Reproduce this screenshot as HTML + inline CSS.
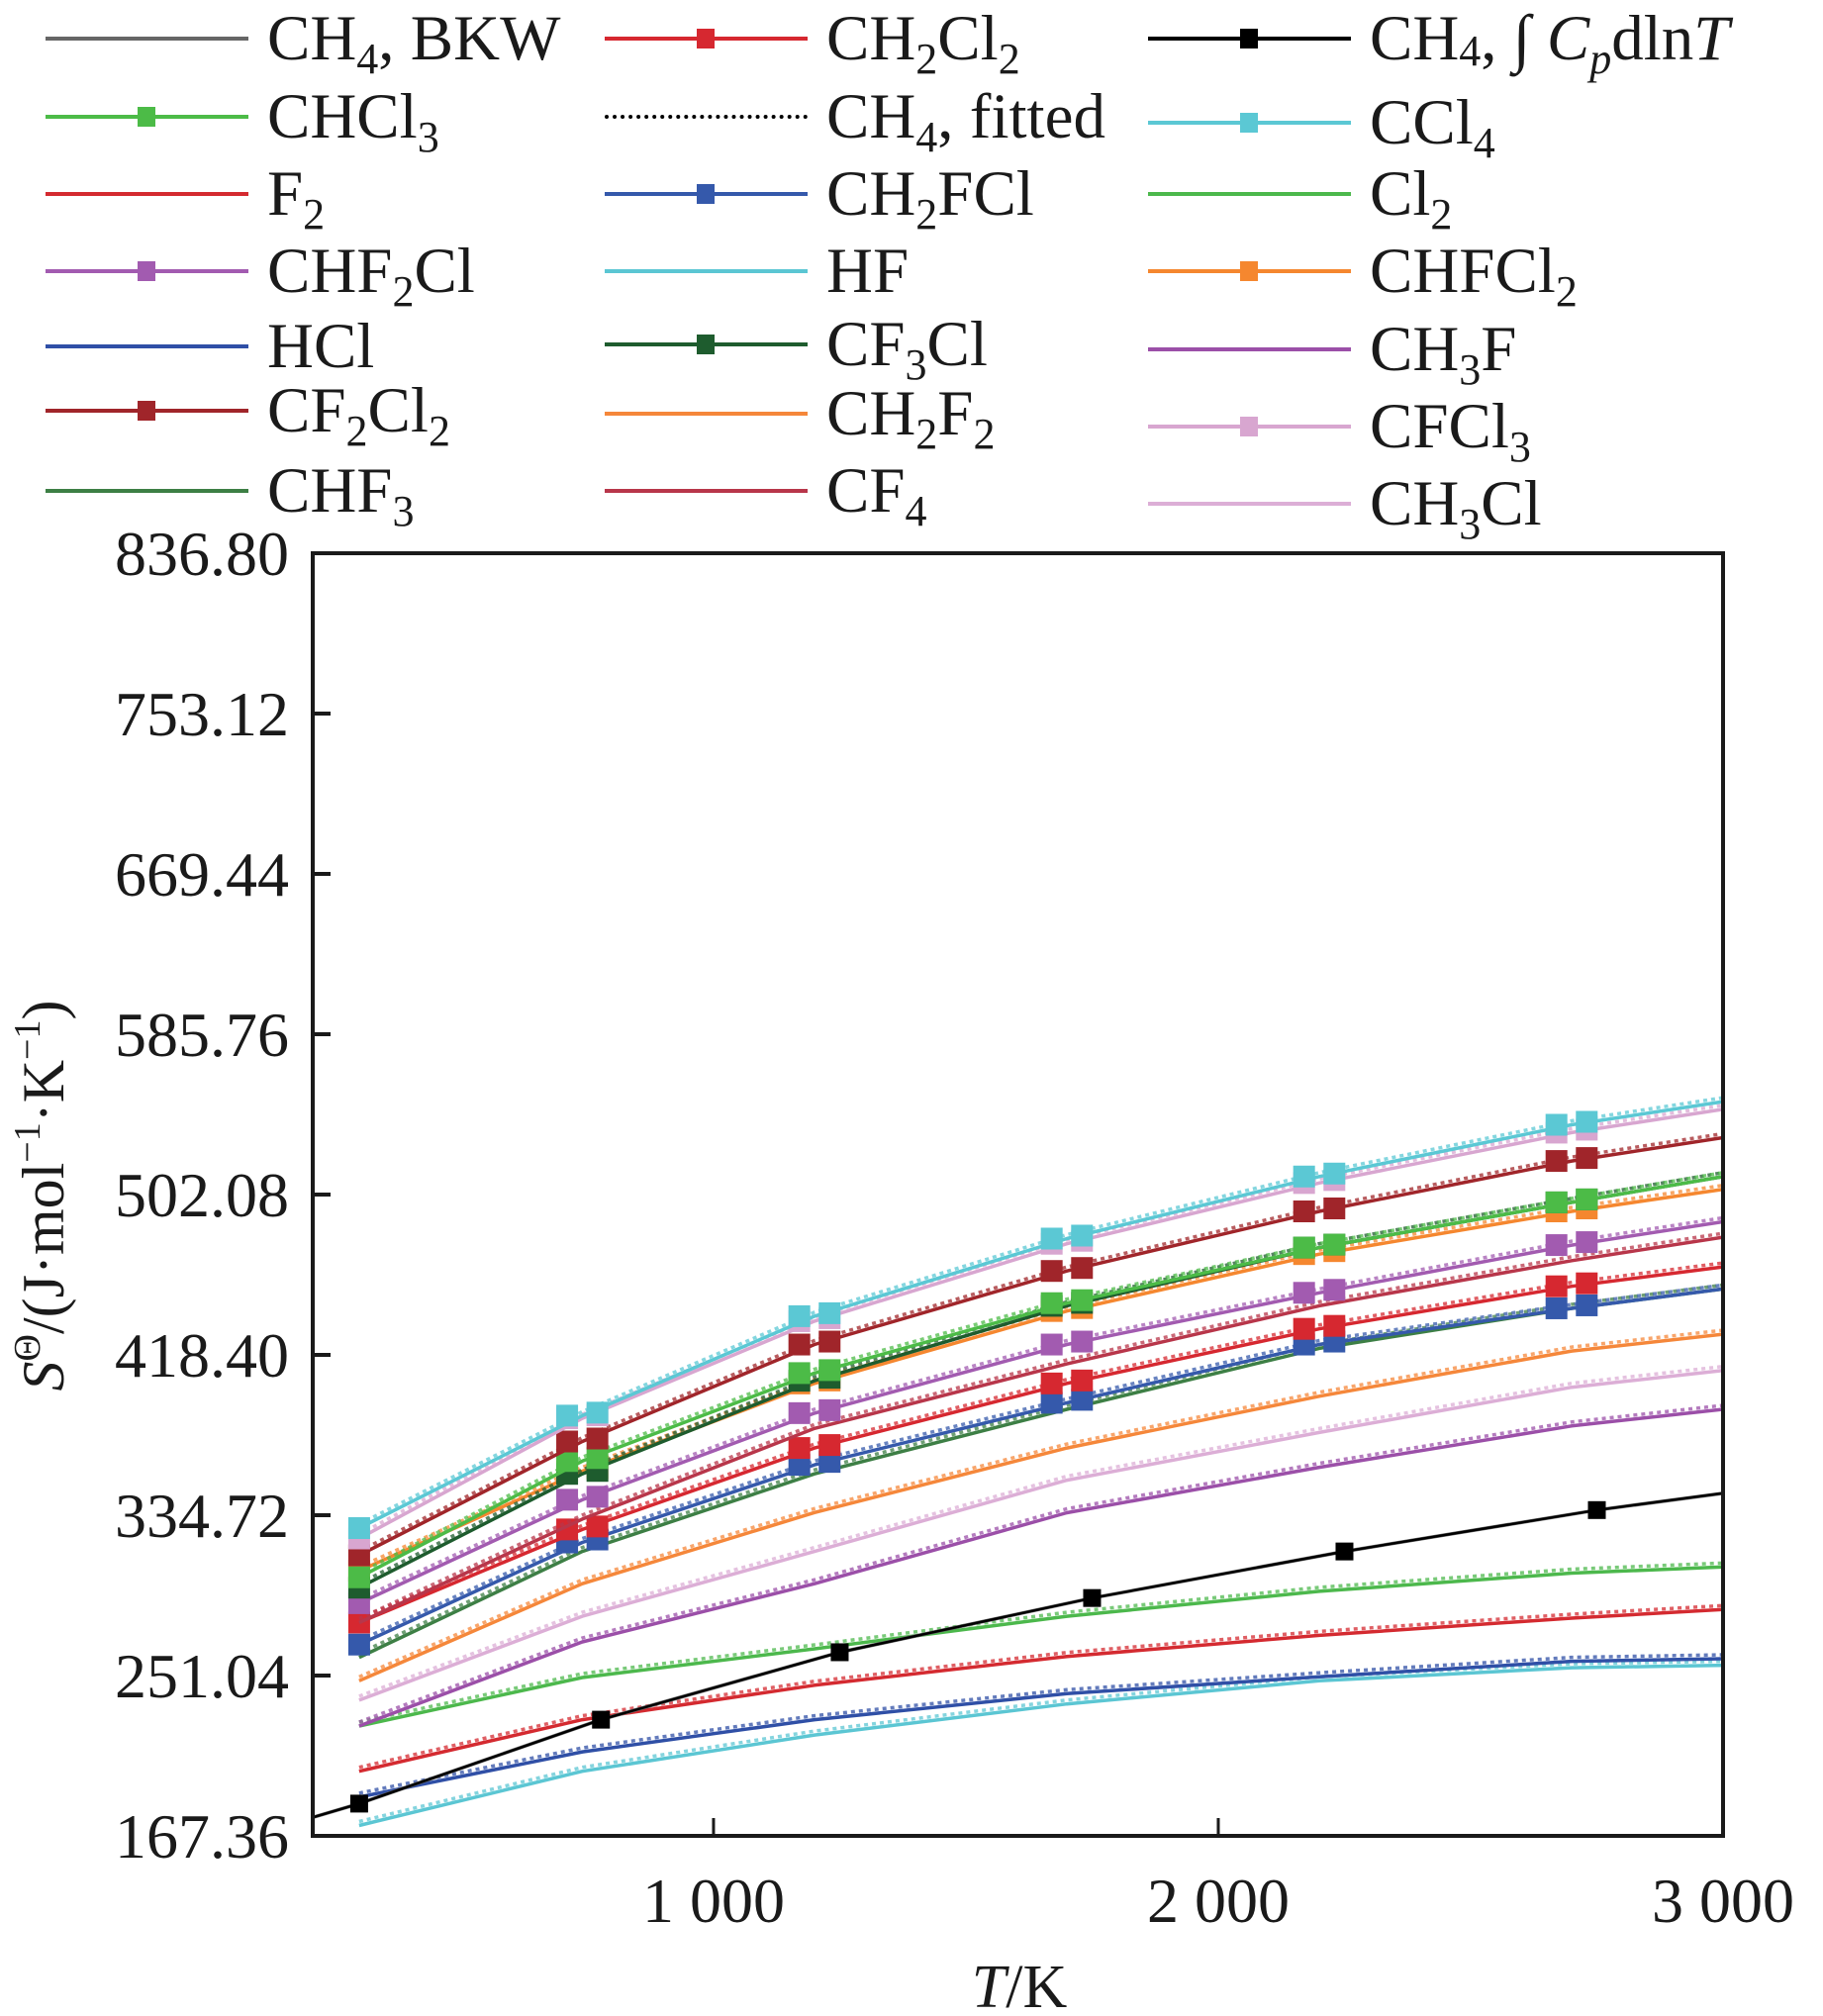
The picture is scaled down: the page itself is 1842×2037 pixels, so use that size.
<!DOCTYPE html>
<html><head><meta charset="utf-8">
<style>
html,body{margin:0;padding:0;background:#fff;}
#wrap{position:relative;width:1842px;height:2037px;overflow:hidden;font-family:"Liberation Serif",serif;color:#1a1a1a;}
svg{position:absolute;left:0;top:0;}
.lg{position:absolute;font-size:65px;line-height:1;white-space:nowrap;font-family:"Liberation Serif",serif;}
.lg sub{font-size:44px;vertical-align:-14px;line-height:0;}
</style></head>
<body>
<div id="wrap">
<svg id="chart" width="1842" height="2037"></svg>
</div>
<script>
const temps = [298, 740, 1200, 1700, 2200, 2700, 3000];
const ch4Temps = [206, 298, 777, 1250, 1750, 2250, 2750, 3000];
const ch4Values = [177, 184.2, 228, 263.2, 291.5, 315.8, 337.4, 346.2];
const vCCl4   = [328, 386.7, 438.6, 479.1, 511.5, 538.5, 550.6];
const vCFCl3  = [322.6, 385.3, 436, 476.4, 508.1, 534.4, 546.6];
const vCF2Cl2 = [313.8, 373.2, 423.8, 462.2, 493.3, 519.6, 531.8];
const vCHFCl2 = [305.7, 357.7, 403.5, 441.3, 471, 493.3, 504.8];
const vCHCl3  = [302.3, 363, 408.9, 445.4, 474.4, 498, 511.5];
const vCF3Cl  = [296.9, 356.3, 404.9, 444, 474.4, 498, 511.5];
const vCHF2Cl = [288.8, 342.8, 388, 423.8, 450.8, 475.7, 487.9];
const vCF4    = [278.7, 332.7, 380, 413.7, 444, 467.6, 479.8];
const vCH2Cl2 = [278.7, 327.3, 369.8, 403.5, 432, 454.2, 464.3];
const vCH2FCl = [267.2, 320.5, 361, 393.4, 423.8, 442.7, 452.8];
const vCHF3   = [260.5, 315.8, 356.3, 390, 421.8, 442.7, 452.8];
const vCH2F2  = [248.3, 299, 336.1, 369.8, 396.8, 420.4, 429.2];
const vCH3Cl  = [238.2, 282, 315.8, 353, 377.9, 401.5, 410.3];
const vCH3F   = [224.7, 268.6, 299, 336, 359.7, 381.3, 390];
const vCl2    = [224.7, 250, 265, 282, 295, 304.5, 307.7];
const vF2     = [201.1, 228, 246, 261, 272, 281, 285.5];
const vHCl    = [187.6, 211.2, 228, 241.6, 250.4, 258.5, 259.8];
const vHF     = [172.8, 201.1, 220, 236.2, 248.3, 255.1, 256.4];
const yTickLabels = ["167.36","251.04","334.72","418.40","502.08","585.76","669.44","753.12","836.80"];
const yTickValues = [167.36,251.04,334.72,418.40,502.08,585.76,669.44,753.12,836.80];
const xTickLabels = ["1 000","2 000","3 000"];
const xTickValues = [1000,2000,3000];

const series = [
 {name:"hf",c:"#5bc6d3",v:vHF,m:false},
 {name:"hcl",c:"#2f4fa6",v:vHCl,m:false},
 {name:"f2",c:"#d42a30",v:vF2,m:false},
 {name:"cl2",c:"#4cb84c",v:vCl2,m:false},
 {name:"ch3f",c:"#9b4fa8",v:vCH3F,m:false},
 {name:"ch3cl",c:"#dcaed6",v:vCH3Cl,m:false},
 {name:"ch2f2",c:"#f5873a",v:vCH2F2,m:false},
 {name:"chf3",c:"#3d7f45",v:vCHF3,m:false},
 {name:"ch2fcl",c:"#3559ab",v:vCH2FCl,m:true},
 {name:"ch2cl2",c:"#d62830",v:vCH2Cl2,m:true},
 {name:"cf4",c:"#b8364a",v:vCF4,m:false},
 {name:"chf2cl",c:"#a25bb0",v:vCHF2Cl,m:true},
 {name:"chfcl2",c:"#f5872f",v:vCHFCl2,m:true},
 {name:"cf3cl",c:"#1e5c2e",v:vCF3Cl,m:true},
 {name:"chcl3",c:"#4cbb47",v:vCHCl3,m:true},
 {name:"cf2cl2",c:"#a0252a",v:vCF2Cl2,m:true},
 {name:"cfcl3",c:"#d8a6d0",v:vCFCl3,m:true},
 {name:"ccl4",c:"#5bc8d4",v:vCCl4,m:true}
];

const L=316,R=1741,T0=559,B=1855, XMIN=206, XMAX=3000, YMIN=167.36, YMAX=836.80;
const sx = t => L + (t-XMIN)/(XMAX-XMIN)*(R-L);
const sy = v => B - (v-YMIN)/(YMAX-YMIN)*(B-T0);
const NS="http://www.w3.org/2000/svg";
const svg=document.getElementById('chart');
function mk(tag,attrs,parent){const e=document.createElementNS(NS,tag);for(const k in attrs)e.setAttribute(k,attrs[k]);(parent||svg).appendChild(e);return e;}

const clip=mk('clipPath',{id:'pc'});mk('rect',{x:L,y:T0,width:R-L,height:B-T0},clip);
const plot=mk('g',{'clip-path':'url(#pc)'});



series.forEach(s=>{
  const pts=temps.map((t,i)=>sx(t).toFixed(1)+','+sy(s.v[i]).toFixed(1)).join(' ');
  const ln=mk('polyline',{points:pts,fill:'none',stroke:s.c,'stroke-width':3.5,'stroke-linejoin':'round'},plot);
  
  
  const dt=mk('polyline',{points:pts,fill:'none',stroke:s.c,'stroke-width':3.5,'stroke-dasharray':'4,4',opacity:0.75,transform:'translate(0,-4)'},plot);
  
  
  if(s.m){
    temps.forEach((t,i)=>{
      if(i===temps.length-1)return;
      const offs = i===0?[0]:[-30,30];
      offs.forEach((o,j)=>{
        const r=mk('rect',{x:sx(t+o)-11,y:sy(s.v[i])-11-(j*3),width:22,height:22,fill:s.c},plot);
        
        
      });
    });
  }
});
{
  const pts=ch4Temps.map((t,i)=>sx(t).toFixed(1)+','+sy(ch4Values[i]).toFixed(1)).join(' ');
  const g=mk('polyline',{points:pts,fill:'none',stroke:'#666','stroke-width':3.5},plot);
  
  
  const k=mk('polyline',{points:pts,fill:'none',stroke:'#000','stroke-width':2.5},plot);
  
  
  ch4Temps.forEach((t,i)=>{
    if(i===0||i===ch4Temps.length-1)return;
    const r=mk('rect',{x:sx(t)-9,y:sy(ch4Values[i])-9,width:18,height:18,fill:'#000'},plot);
    
    
  });
}
const fr=mk('rect',{x:L,y:T0,width:R-L,height:B-T0,fill:'none',stroke:'#1a1a1a','stroke-width':4});


yTickValues.forEach((v,i)=>{
  const y=sy(v);
  if(i>0&&i<yTickValues.length-1){const tk=mk('line',{x1:L,x2:L+18,y1:y,y2:y,stroke:'#1a1a1a','stroke-width':4});
  
  }
  const tx=mk('text',{x:292,y:y+22,'text-anchor':'end','font-size':64,'font-family':'Liberation Serif, serif',fill:'#1a1a1a'});
  tx.textContent=yTickLabels[i];
  
  
});
xTickValues.forEach((v,i)=>{
  const x=sx(v);
  if(v<XMAX){const tk=mk('line',{x1:x,x2:x,y1:B,y2:B-18,stroke:'#1a1a1a','stroke-width':3});
  
  }
  const tx=mk('text',{x:x,y:1942,'text-anchor':'middle','font-size':64,'font-family':'Liberation Serif, serif',fill:'#1a1a1a'});
  tx.textContent=xTickLabels[i];
  
  
});
</script>
<svg width="1842" height="2037" style="pointer-events:none">
<text x="1030" y="2028" text-anchor="middle" font-size="62" font-family="Liberation Serif, serif" fill="#1a1a1a"><tspan font-style="italic">T</tspan>/K</text>
<text transform="translate(64,1208) rotate(-90)" text-anchor="middle" font-size="60" font-family="Liberation Serif, serif" fill="#1a1a1a"><tspan font-style="italic">S</tspan><tspan font-size="38" dy="-24">Θ</tspan><tspan dy="24">/(J·mol</tspan><tspan font-size="38" dy="-24">−1</tspan><tspan dy="24">·K</tspan><tspan font-size="38" dy="-24">−1</tspan><tspan dy="24">)</tspan></text>
</svg>
<script>
const legendItems = [
 [46,39,'#666',false,false,'CH<sub>4</sub>, BKW','ch4-bkw'],
 [46,118,'#4cbb47',true,false,'CHCl<sub>3</sub>','chcl3'],
 [46,196,'#d42a30',false,false,'F<sub>2</sub>','f2'],
 [46,274,'#a25bb0',true,false,'CHF<sub>2</sub>Cl','chf2cl'],
 [46,350,'#2f4fa6',false,false,'HCl','hcl'],
 [46,415,'#a0252a',true,false,'CF<sub>2</sub>Cl<sub>2</sub>','cf2cl2'],
 [46,496,'#3d7f45',false,false,'CHF<sub>3</sub>','chf3'],
 [611,39,'#d62830',true,false,'CH<sub>2</sub>Cl<sub>2</sub>','ch2cl2'],
 [611,118,'#000',false,true,'CH<sub>4</sub>, fitted','ch4-fitted'],
 [611,196,'#3559ab',true,false,'CH<sub>2</sub>FCl','ch2fcl'],
 [611,274,'#5bc6d3',false,false,'HF','hf'],
 [611,348,'#1e5c2e',true,false,'CF<sub>3</sub>Cl','cf3cl'],
 [611,418,'#f5873a',false,false,'CH<sub>2</sub>F<sub>2</sub>','ch2f2'],
 [611,496,'#b8364a',false,false,'CF<sub>4</sub>','cf4'],
 [1160,39,'#000',true,false,'CH<sub style="font-size:44px;vertical-align:-6px">4</sub>, ∫ <i>C<sub>p</sub></i>dln<i>T</i>','ch4-integral'],
 [1160,124,'#5bc8d4',true,false,'CCl<sub>4</sub>','ccl4'],
 [1160,196,'#4cb84c',false,false,'Cl<sub>2</sub>','cl2'],
 [1160,274,'#f5872f',true,false,'CHFCl<sub>2</sub>','chfcl2'],
 [1160,353,'#9b4fa8',false,false,'CH<sub>3</sub>F','ch3f'],
 [1160,431,'#d8a6d0',true,false,'CFCl<sub>3</sub>','cfcl3'],
 [1160,509,'#dcaed6',false,false,'CH<sub>3</sub>Cl','ch3cl']
];
const wrap=document.getElementById('wrap');
legendItems.forEach(it=>{
  const [x,y,c,mk2,dot,label,nm]=it;
  const d=document.createElement('div');
  
  
  d.style.position='absolute';d.style.left=x+'px';d.style.top=(y-40)+'px';d.style.width='600px';d.style.height='80px';
  const line=document.createElement('div');
  
  
  line.style.cssText='position:absolute;left:0;top:38px;width:205px;height:0;border-top:4px '+(dot?'dotted':'solid')+' '+c+';';
  d.appendChild(line);
  if(mk2){const m=document.createElement('div');
    
    
    m.style.cssText='position:absolute;left:93px;top:30px;width:18px;height:20px;background:'+c+';';d.appendChild(m);}
  const t=document.createElement('div');
  t.className='lg';
  
  
  t.style.left='224px';t.style.top='8px';
  t.innerHTML=label;
  d.appendChild(t);
  wrap.appendChild(d);
});
</script>
</body></html>
